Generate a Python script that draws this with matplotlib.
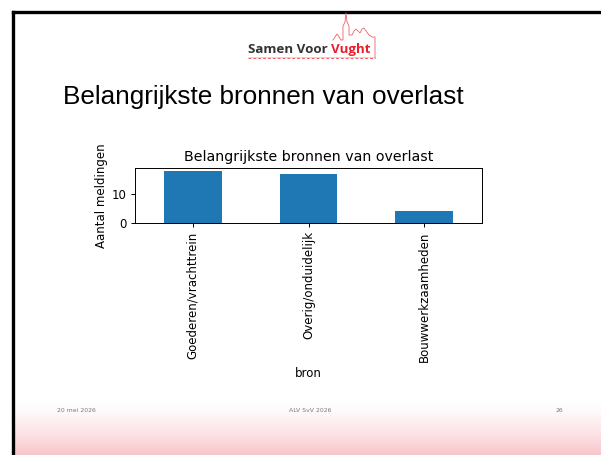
import numpy as np
import matplotlib
matplotlib.use("Agg")
from matplotlib import pyplot as plt

# chart data
categories = ["Goederen/vrachttrein", "Overig/onduidelijk", "Bouwwerkzaamheden"]
counts = [18, 17, 4]

slide_title = "Belangrijkste bronnen van overlast"
chart_title = "Belangrijkste bronnen van overlast"
footer_date = "20 mei 2026"
footer_mid = "ALV SvV 2026"
footer_page = "26"

W, H = 601, 455
fig = plt.figure(figsize=(W / 100, H / 100), dpi=100)
fig.patch.set_facecolor("white")

# slide background in pixel coordinates
bg = fig.add_axes([0, 0, 1, 1], zorder=0)
bg.set_xlim(0, W)
bg.set_ylim(H, 0)
bg.axis("off")

# pink gradient at the bottom
grad = np.linspace(0, 1, 64) ** 1.4
pink = np.array([248, 198, 203]) / 255.0
img = np.ones((64, 1, 3)) * (1 - grad[:, None, None]) + pink * grad[:, None, None]
bg.imshow(img, extent=(14, W, H, 400), aspect="auto", zorder=1)

# black frame on left and top
bg.plot([13, 13], [H, 11.5], color="black", lw=2.4, solid_capstyle="projecting", zorder=3)
bg.plot([13, W], [11.5, 11.5], color="black", lw=2.4, solid_capstyle="projecting", zorder=3)

# logo
logo_red = "#f0606a"
t1 = bg.text(248, 53, "Samen Voor", fontsize=9.6, fontweight="bold", family="Open Sans",
             color="#333333", va="baseline", ha="left", zorder=4)
fig.canvas.draw()
ext = t1.get_window_extent()
x_end = bg.transData.inverted().transform((ext.x1, ext.y0))[0]
bg.text(x_end + 3, 53, "Vught", fontsize=9.6, fontweight="bold", family="Open Sans",
        color="#e8202c", va="baseline", ha="left", zorder=4)
bg.plot([248, 375], [58, 58], color=logo_red, lw=0.7, ls=(0, (3, 2)), zorder=4)
bg.plot([248, 375], [56.5, 56.5], color=logo_red, lw=0.4, alpha=0.6, zorder=4)
sky_x = [333, 337, 341, 343, 343, 345, 346, 347, 349, 349, 352, 354, 356, 358, 360, 362, 364, 366, 369, 372, 375, 375]
sky_y = [40, 34, 40, 40, 26, 22, 13, 22, 26, 35, 35, 31, 29, 31, 33, 29, 28, 31, 35, 37, 37, 58]
bg.plot(sky_x, sky_y, color=logo_red, lw=0.6, zorder=4)

# slide title
bg.text(63, 97, slide_title, fontsize=18.8, family="Liberation Sans", color="black",
        va="center", ha="left", zorder=4)

# footer
for x, s, ha in [(57, footer_date, "left"), (310, footer_mid, "center"), (563, footer_page, "right")]:
    bg.text(x, 411, s, fontsize=4.4, family="Liberation Sans Narrow", color="#7a7a7a",
            va="center", ha=ha, zorder=4)

# the chart itself
ax = fig.add_axes([135 / W, 1 - 223 / H, (482 - 135) / W, (223 - 168) / H], zorder=2)
x = np.arange(len(categories))
ax.bar(x, counts, width=0.5, color="#1f77b4")
ax.set_xlim(-0.5, len(categories) - 0.5)
ax.set_ylim(0, max(counts) * 1.05)
ax.set_yticks([0, 10])
ax.set_xticks(x)
ax.set_xticklabels(categories, rotation=90)
ax.tick_params(labelsize=8.5, length=3, width=0.7, pad=3)
for sp in ax.spines.values():
    sp.set_linewidth(0.7)
ax.set_title(chart_title, fontsize=10.2, pad=5)
ax.set_ylabel("Aantal meldingen", fontsize=8.5, labelpad=3)
ax.set_xlabel("bron", fontsize=8.5, labelpad=4)

fig.savefig("out.png", dpi=100)
